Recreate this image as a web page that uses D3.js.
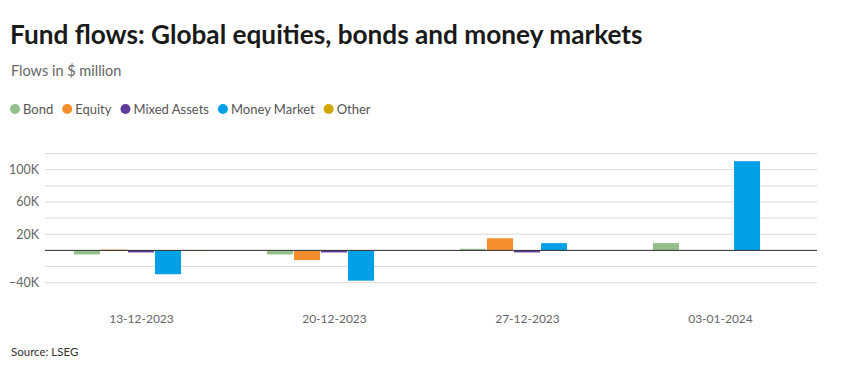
<!DOCTYPE html>
<html>
<head>
<meta charset="utf-8">
<script src="https://cdn.jsdelivr.net/npm/d3@7"></script>
<style>
  body { margin: 0; background: #fff; }
  svg text { font-family: Lato, "Noto Sans", sans-serif; }
</style>
</head>
<body>
<svg id="chart" width="844" height="366"></svg>
<script>
// fund flows by week, $ million
const weeks = ['13-12-2023', '20-12-2023', '27-12-2023', '03-01-2024'];
const seriesNames = ['Bond', 'Equity', 'Mixed Assets', 'Money Market', 'Other'];
const bond = [-5000, -5000, 2000, 9000];
const equity = [1000, -12000, 15000, 0];
const mixed = [-2500, -2500, -2500, 0];
const money = [-29500, -37500, 9000, 110500];
const other = [-800, -400, 0, 0];
const colors = ['#93c08a', '#f38d2e', '#5e3c99', '#00a0e6', '#d2a500'];
const yTicks = [-40000, 20000, 60000, 100000];
const yGrid = [-40000, -20000, 0, 20000, 40000, 60000, 80000, 100000, 120000];

const values = [bond, equity, mixed, money, other];
const svg = d3.select('#chart');

svg.append('text').attr('x', 10).attr('y', 44)
  .attr('font-size', 26.2).attr('font-weight', 700).attr('fill', '#1a1a1a')
  .text('Fund flows: Global equities, bonds and money markets');
svg.append('text').attr('x', 11).attr('y', 76)
  .attr('font-size', 14.5).attr('fill', '#666')
  .text('Flows in $ million');

// legend
let lx = 10;
seriesNames.forEach((n, i) => {
  const g = svg.append('g').attr('transform', `translate(${lx},109)`);
  g.append('circle').attr('cx', 5).attr('cy', 0).attr('r', 5).attr('fill', colors[i]);
  const t = g.append('text').attr('x', 13).attr('y', 4.5)
    .attr('font-size', 13).attr('fill', '#555').text(n);
  lx += 13 + t.node().getComputedTextLength() + 9;
});

const plotL = 45, plotR = 817, plotT = 153.5, plotB = 282.7;
const x = d3.scaleBand().domain(weeks).range([plotL, plotR]).paddingInner(0.3).paddingOuter(0.15);
const x1 = d3.scaleBand().domain(seriesNames).range([0, x.bandwidth()]);
const y = d3.scaleLinear().domain([-40000, 120000]).range([plotB, plotT]);

svg.append('g').selectAll('line').data(yGrid).join('line')
  .attr('x1', plotL).attr('x2', plotR)
  .attr('y1', d => y(d)).attr('y2', d => y(d))
  .attr('stroke', '#d9d9d9').attr('stroke-width', 1);

svg.append('g').selectAll('text').data(yTicks).join('text')
  .attr('x', 39).attr('y', d => y(d) + 4.5)
  .attr('text-anchor', 'end').attr('font-size', 12.5).attr('fill', '#666')
  .text(d => d3.format('~s')(d).replace('k', 'K').replace('-', '\u2212'));

const groups = svg.append('g').selectAll('g').data(weeks).join('g')
  .attr('transform', d => `translate(${x(d)},0)`);
groups.selectAll('rect')
  .data((w, wi) => seriesNames.map((s, si) => ({ s, si, v: values[si][wi] })))
  .join('rect')
  .attr('x', d => x1(d.s))
  .attr('width', x1.bandwidth() - 1)
  .attr('y', d => y(Math.max(0, d.v)))
  .attr('height', d => Math.abs(y(d.v) - y(0)))
  .attr('fill', d => colors[d.si]);

svg.append('line').attr('x1', plotL).attr('x2', plotR)
  .attr('y1', y(0)).attr('y2', y(0))
  .attr('stroke', '#333').attr('stroke-width', 1);

svg.append('g').selectAll('text').data(weeks).join('text')
  .attr('x', d => x(d) + x.bandwidth() / 2).attr('y', 323)
  .attr('text-anchor', 'middle').attr('font-size', 12).attr('fill', '#666')
  .text(d => d);

svg.append('text').attr('x', 11).attr('y', 356)
  .attr('font-size', 11.5).attr('fill', '#333').text('Source: LSEG');
</script>
</body>
</html>
